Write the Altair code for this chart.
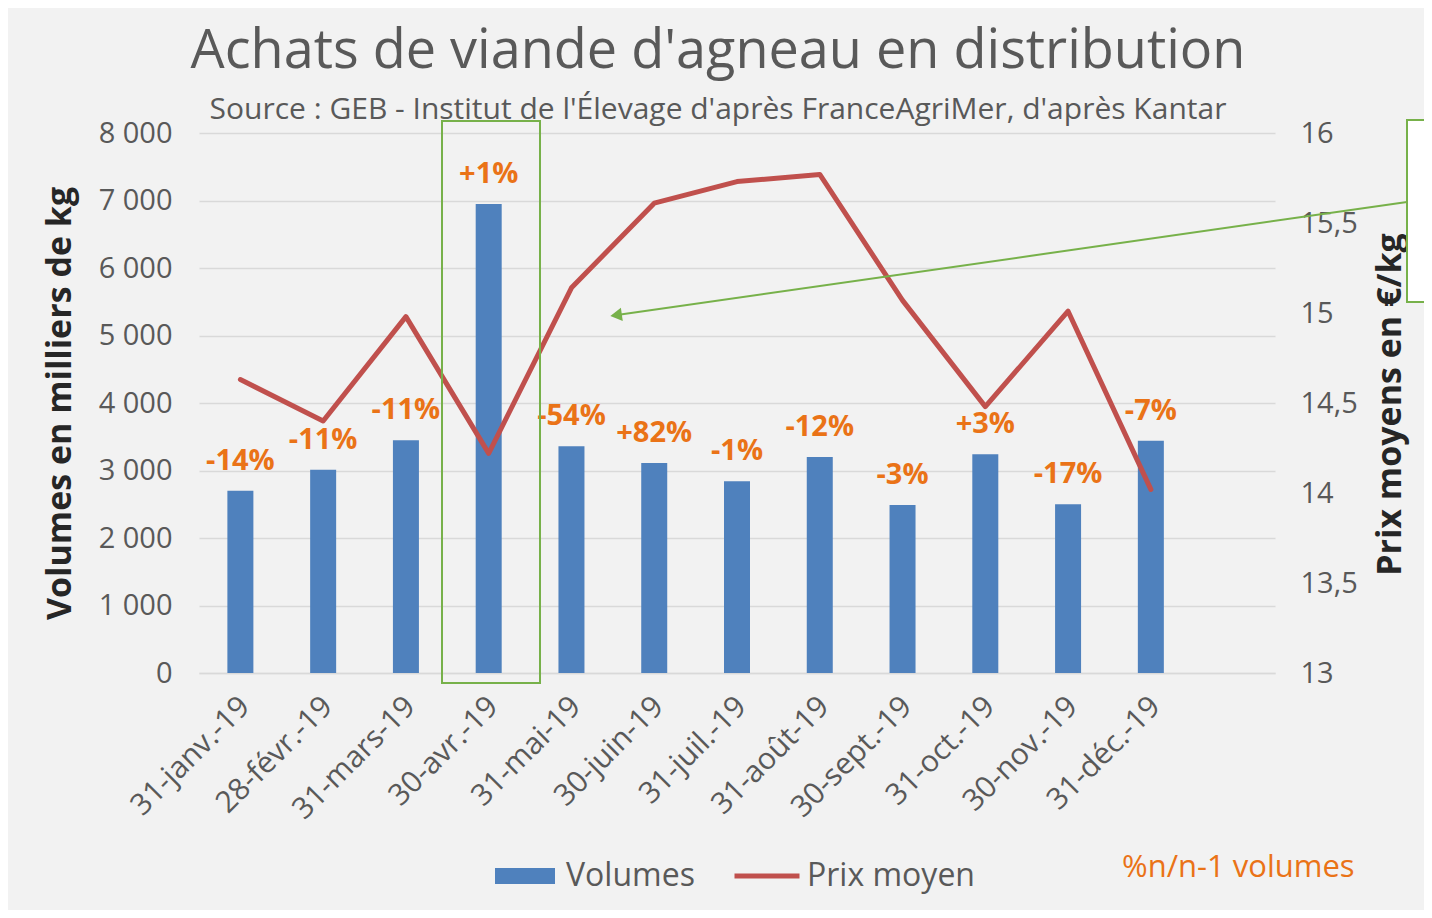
import altair as alt
import pandas as pd

months = ["31-janv.-19", "28-févr.-19", "31-mars-19", "30-avr.-19", "31-mai-19", "30-juin-19",
          "31-juil.-19", "31-août-19", "30-sept.-19", "31-oct.-19", "30-nov.-19", "31-déc.-19"]
volumes = [2700, 3010, 3450, 6950, 3360, 3110, 2840, 3200, 2490, 3240, 2500, 3440]
prix = [14.63, 14.40, 14.98, 14.22, 15.14, 15.61, 15.73, 15.77, 15.07, 14.48, 15.01, 14.02]
variations = ["-14%", "-11%", "-11%", "+1%", "-54%", "+82%", "-1%", "-12%", "-3%", "+3%", "-17%", "-7%"]
vol_ticks = [0, 1000, 2000, 3000, 4000, 5000, 6000, 7000, 8000]
prix_ticks = [13, 13.5, 14, 14.5, 15, 15.5, 16]

FONT = "Open Sans"
GRAY = "#595959"
BLUE = "#4f81bd"
RED = "#c0504d"
ORANGE = "#ea7317"
GREEN = "#77b14a"
GRID = "#d9d9d9"

df = pd.DataFrame({
    "mois": months,
    "volume": volumes,
    "prix": prix,
    "var": variations,
    "s_vol": ["Volumes"] * len(months),
    "s_prix": ["Prix moyen"] * len(months),
})
domain_x = months + [" "]

x = alt.X("mois:N", sort=domain_x,
          scale=alt.Scale(domain=domain_x, paddingInner=0, paddingOuter=0),
          axis=alt.Axis(title=None, labelAngle=315, labelFontSize=30, labelFont=FONT,
                        labelColor=GRAY, domainColor=GRID, domainWidth=1.5, ticks=False,
                        labelPadding=18, labelOffset=-6, labelLimit=0))

bars = alt.Chart(df).mark_bar(size=26).encode(
    x=x,
    y=alt.Y("volume:Q", scale=alt.Scale(domain=[0, 8000], nice=False),
            axis=alt.Axis(orient="left", values=vol_ticks,
                          labelExpr="replace(format(datum.value, ','), ',', ' ')",
                          labelFontSize=29, labelFont=FONT, labelColor=GRAY, labelPadding=27,
                          grid=True, gridColor=GRID, gridWidth=1.5, domain=False, ticks=False,
                          title="Volumes en milliers de kg", titleFontSize=34, titleFont=FONT,
                          titleFontWeight="bold", titleColor="#262626", titleAngle=270,
                          titleX=-139, titleY=270, titleBaseline="middle", titleAlign="center")),
    fill=alt.Fill("s_vol:N", scale=alt.Scale(domain=["Volumes"], range=[BLUE]),
                  legend=alt.Legend(orient="none", legendX=296, legendY=713, title=None,
                                    symbolType="M-1,-0.267H1V0.267H-1Z", symbolSize=3600,
                                    symbolStrokeWidth=0, labelFontSize=32, labelFont=FONT,
                                    labelColor=GRAY, labelOffset=11, padding=0, labelLimit=0)),
)

line = alt.Chart(df).mark_line(strokeWidth=5, strokeCap="round", strokeJoin="round").encode(
    x=x,
    y=alt.Y("prix:Q", scale=alt.Scale(domain=[13, 16], nice=False, zero=False),
            axis=alt.Axis(orient="right", values=prix_ticks,
                          labelExpr="replace(toString(datum.value), '.', ',')",
                          labelFontSize=29, labelFont=FONT, labelColor=GRAY, labelPadding=25,
                          grid=False, domain=False, ticks=False,
                          title="Prix moyens en €/kg", titleFontSize=34, titleFont=FONT,
                          titleFontWeight="bold", titleColor="#262626", titleAngle=270,
                          titleX=115, titleY=271, titleBaseline="middle", titleAlign="center")),
    stroke=alt.Stroke("s_prix:N", scale=alt.Scale(domain=["Prix moyen"], range=[RED]),
                      legend=alt.Legend(orient="none", legendX=533, legendY=708, title=None,
                                        symbolType="stroke", symbolSize=4225, symbolStrokeWidth=5,
                                        labelFontSize=32, labelFont=FONT, labelColor=GRAY,
                                        labelOffset=5, padding=0, labelLimit=0)),
)

labels = alt.Chart(df).mark_text(dy=-30, fontSize=29, fontWeight="bold", color=ORANGE,
                                 font=FONT, baseline="middle").encode(
    x=x,
    y=alt.Y("volume:Q", scale=alt.Scale(domain=[0, 8000], nice=False), axis=None),
    text="var:N",
)

one = alt.Data(values=[{"k": 1}])

box_april = alt.Chart(one).mark_rect(fillOpacity=0, stroke=GREEN, strokeWidth=2).encode(
    x=alt.value(243), x2=alt.value(341), y=alt.value(-12), y2=alt.value(550))

box_right = alt.Chart(one).mark_rect(fill="white", stroke=GREEN, strokeWidth=2).encode(
    x=alt.value(1208), x2=alt.value(1260), y=alt.value(-13), y2=alt.value(169))

arrow = alt.Chart(one).mark_rule(color=GREEN, strokeWidth=2).encode(
    x=alt.value(1208), y=alt.value(69), x2=alt.value(418), y2=alt.value(182))

arrow_head = alt.Chart(one).mark_point(shape="triangle", filled=True, size=180, angle=262,
                                       color=GREEN, opacity=1).encode(
    x=alt.value(419), y=alt.value(182))

pct_note = alt.Chart(one).mark_text(text="%n/n-1 volumes", fontSize=31, font=FONT, color=ORANGE,
                                    align="left", baseline="middle").encode(
    x=alt.value(923), y=alt.value(735))

chart = alt.layer(bars, line, labels, box_april, box_right, arrow, arrow_head, pct_note).resolve_scale(
    y="independent"
).properties(
    width=1076,
    height=540,
    title=alt.TitleParams(
        text="Achats  de viande d'agneau en distribution",
        subtitle="Source : GEB - Institut de l'Élevage d'après FranceAgriMer, d'après Kantar",
        anchor="middle", frame="group", dx=-19, offset=-6,
        font=FONT, fontSize=54, fontWeight="normal", color=GRAY,
        subtitleFont=FONT, subtitleFontSize=30, subtitleColor=GRAY, subtitlePadding=16,
    ),
    autosize=alt.AutoSizeParams(type="none"),
    padding={"left": 191, "top": 125, "right": 149, "bottom": 237},
    background="#f2f2f2",
).configure_view(stroke=None)

chart.save("out.html", embed_options={"renderer": "svg", "actions": False})
